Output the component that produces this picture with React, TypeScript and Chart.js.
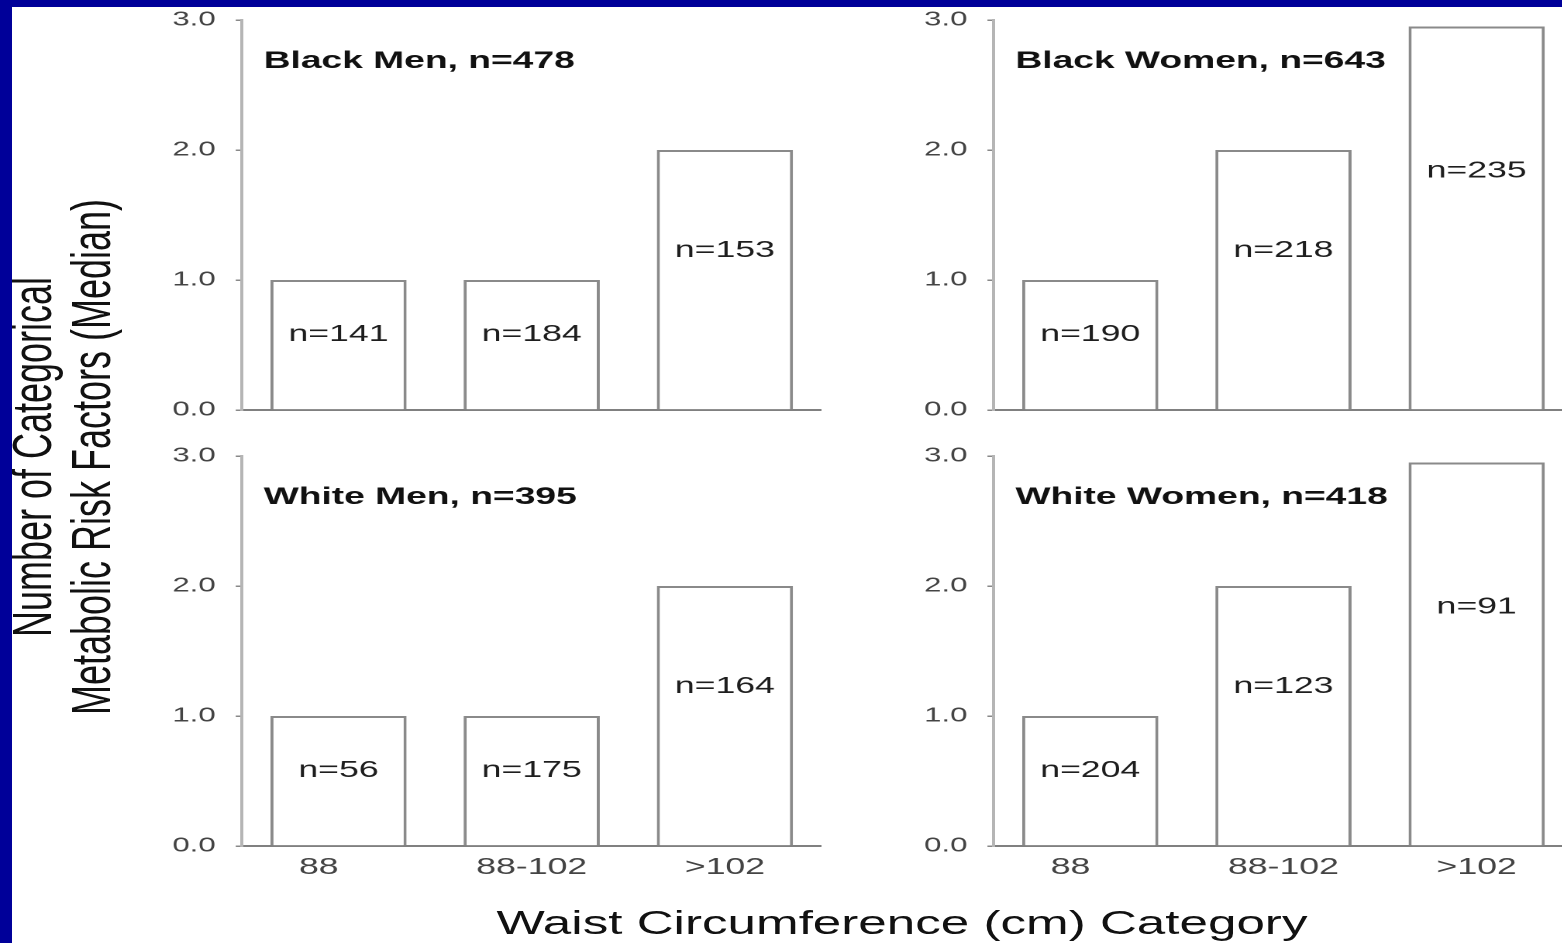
import { useEffect, useRef } from "react";
import { Chart, registerables } from "chart.js";

Chart.register(...registerables);

// The whole figure is laid out on a narrower sheet and widened horizontally.
const STRETCH = 1.55;
const FONT = '"Liberation Sans", Arial, Helvetica, sans-serif';

const categories = ["88", "88-102", ">102"];
// The first category label sits a little left of its bar.
const categoryTickLabels = ["88    ", "88-102", ">102"];
const yTickValues = [0, 1, 2, 3];

const blackMenMedians = [1, 1, 2];
const blackWomenMedians = [1, 2, 2.95];
const whiteMenMedians = [1, 1, 2];
const whiteWomenMedians = [1, 2, 2.95];

const blackMenCounts = [141, 184, 153];
const blackWomenCounts = [190, 218, 235];
const whiteMenCounts = [56, 175, 164];
const whiteWomenCounts = [204, 123, 91];

// Group sizes written inside the bars and the panel heading.
const panelText = {
  id: "panelText",
  afterDatasetsDraw(chart: any, _args: any, opts: any) {
    const { ctx, chartArea, scales } = chart;
    const meta = chart.getDatasetMeta(0);
    const values = chart.data.datasets[0].data as number[];
    ctx.save();
    ctx.font = `23px ${FONT}`;
    ctx.fillStyle = "#1e1e1e";
    ctx.textAlign = "center";
    ctx.textBaseline = "middle";
    meta.data.forEach((bar: any, i: number) => {
      const y = scales.y.getPixelForValue(values[i] * 0.645 - 0.065);
      ctx.fillText(`n=${opts.counts[i]}`, bar.x, y);
    });
    ctx.font = `bold 24px ${FONT}`;
    ctx.fillStyle = "#111";
    ctx.textAlign = "left";
    ctx.fillText(opts.title, chartArea.left + 14, scales.y.getPixelForValue(2.68));
    ctx.restore();
  },
};

type PanelProps = {
  title: string;
  medians: number[];
  counts: number[];
  axisX: number;
  plotRight: number;
  plotTop: number;
  plotBottom: number;
  showCategories: boolean;
};

const TOP_ROOM = 26;

function Panel(p: PanelProps) {
  const ref = useRef<HTMLCanvasElement>(null);
  const canvasLeft = p.axisX - 90;
  const canvasTop = p.plotTop - TOP_ROOM;
  const xAxisHeight = p.showCategories ? 46 : 26;
  const w = Math.round((p.plotRight - canvasLeft) / STRETCH);
  const h = p.plotBottom + xAxisHeight - canvasTop;
  const yAxisWidth = (p.axisX - canvasLeft) / STRETCH;

  useEffect(() => {
    const chart = new Chart(ref.current as HTMLCanvasElement, {
      type: "bar",
      data: {
        labels: categories,
        datasets: [
          {
            data: p.medians,
            backgroundColor: "#ffffff",
            borderColor: "#8a8a8a",
            borderWidth: 2,
            barPercentage: 0.705,
            categoryPercentage: 1,
          },
        ],
      },
      options: {
        animation: false,
        responsive: false,
        devicePixelRatio: 2,
        layout: { padding: { top: TOP_ROOM, left: 0, right: 0, bottom: 0 } },
        plugins: {
          legend: { display: false },
          tooltip: { enabled: false },
          panelText: { counts: p.counts, title: p.title },
        } as any,
        scales: {
          x: {
            afterFit: (s: any) => {
              s.height = xAxisHeight;
            },
            grid: { display: false, drawTicks: false },
            border: { display: true, color: "#808080", width: 2 },
            ticks: {
              display: p.showCategories,
              padding: 8,
              color: "#444",
              font: { family: FONT, size: 23 },
              callback: (_v: any, i: number) => categoryTickLabels[i],
            },
          },
          y: {
            min: 0,
            max: 3,
            afterFit: (s: any) => {
              s.width = yAxisWidth;
            },
            afterBuildTicks: (s: any) => {
              s.ticks = yTickValues.map((value) => ({ value }));
            },
            grid: {
              drawOnChartArea: false,
              drawTicks: true,
              tickLength: 4,
              color: "#888",
              lineWidth: 1.5,
            },
            border: { display: true, color: "#b5b5b5", width: 2 },
            ticks: {
              padding: 13,
              color: "#444",
              font: { family: FONT, size: 20 },
              callback: (v: any) => Number(v).toFixed(1),
            },
          },
        },
      },
      plugins: [panelText],
    });
    return () => chart.destroy();
  }, []);

  return (
    <canvas
      ref={ref}
      width={w}
      height={h}
      style={{
        position: "absolute",
        left: canvasLeft / STRETCH,
        top: canvasTop,
        width: w,
        height: h,
      }}
    />
  );
}

const BLUE = "#000099";

export default function App() {
  const yTitleStyle = (cx: number): any => ({
    position: "absolute",
    left: cx / STRETCH,
    top: 457,
    transform: "translate(-50%, -50%) rotate(-90deg)",
    whiteSpace: "nowrap",
    font: `36px ${FONT}`,
    lineHeight: 1,
    color: "#111",
  });

  return (
    <div
      style={{
        position: "fixed",
        left: 0,
        top: 0,
        width: 1562,
        height: 943,
        overflow: "hidden",
        background: "#ffffff",
      }}
    >
      <div
        style={{
          position: "absolute",
          left: 0,
          top: 0,
          width: 1562 / STRETCH,
          height: 943,
          overflow: "hidden",
          transform: `scaleX(${STRETCH})`,
          transformOrigin: "0 0",
        }}
      >
        <Panel
          title="Black Men, n=478"
          medians={blackMenMedians}
          counts={blackMenCounts}
          axisX={242}
          plotRight={821}
          plotTop={20}
          plotBottom={410}
          showCategories={false}
        />
        <Panel
          title="Black Women, n=643"
          medians={blackWomenMedians}
          counts={blackWomenCounts}
          axisX={993}
          plotRight={1573}
          plotTop={20}
          plotBottom={410}
          showCategories={false}
        />
        <Panel
          title="White Men, n=395"
          medians={whiteMenMedians}
          counts={whiteMenCounts}
          axisX={242}
          plotRight={821}
          plotTop={456}
          plotBottom={846}
          showCategories={true}
        />
        <Panel
          title="White Women, n=418"
          medians={whiteWomenMedians}
          counts={whiteWomenCounts}
          axisX={993}
          plotRight={1573}
          plotTop={456}
          plotBottom={846}
          showCategories={true}
        />
        <div style={yTitleStyle(33)}>Number of Categorical</div>
        <div style={yTitleStyle(92)}>Metabolic Risk Factors (Median)</div>
        <div
          style={{
            position: "absolute",
            left: 902 / STRETCH,
            top: 922,
            transform: "translate(-50%, -50%)",
            whiteSpace: "nowrap",
            font: `33px ${FONT}`,
            lineHeight: 1,
            color: "#111",
          }}
        >
          Waist Circumference (cm) Category
        </div>
      </div>
      <div style={{ position: "absolute", left: 0, top: 0, width: 1562, height: 7, background: BLUE }} />
      <div style={{ position: "absolute", left: 0, top: 0, width: 12, height: 943, background: BLUE }} />
    </div>
  );
}
